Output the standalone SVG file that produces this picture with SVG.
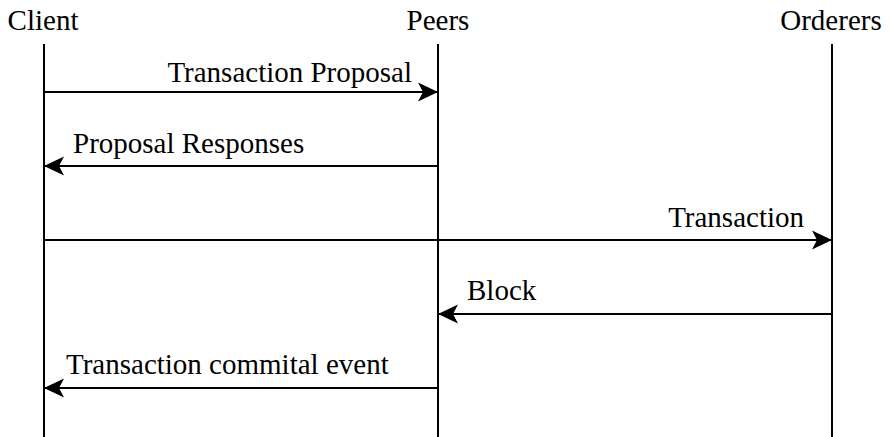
<svg xmlns="http://www.w3.org/2000/svg" width="891" height="437" viewBox="0 0 891 437">
<style>
text{font-family:"Liberation Serif","Times New Roman",serif;font-size:29px;fill:#000}
.life{stroke:#000;stroke-width:2;fill:none}
.msg{stroke:#000;stroke-width:2;fill:none;marker-end:url(#arr)}
</style>
<defs>
<marker id="arr" markerUnits="userSpaceOnUse" markerWidth="22" markerHeight="22" viewBox="0 0 22 20" refX="20" refY="10" orient="auto">
<path d="M0,0.5 L20,10 L0,19.5 L5,10 Z" fill="#000"/>
</marker>
</defs>
<rect width="891" height="437" fill="#fff"/>
<g id="client">
<text x="43" y="30" text-anchor="middle">Client</text>
<line class="life" x1="44" y1="44" x2="44" y2="437"/>
</g>
<g id="peers">
<text x="438" y="30" text-anchor="middle">Peers</text>
<line class="life" x1="438" y1="44" x2="438" y2="437"/>
</g>
<g id="orderers">
<text x="831" y="30" text-anchor="middle">Orderers</text>
<line class="life" x1="832" y1="44" x2="832" y2="437"/>
</g>
<g id="connectors">
<line class="msg" x1="44" y1="92" x2="438" y2="92"/>
<text x="412" y="82" text-anchor="end">Transaction Proposal</text>
<line class="msg" x1="438" y1="166" x2="44" y2="166"/>
<text x="73" y="153">Proposal Responses</text>
<line class="msg" x1="44" y1="240" x2="832" y2="240"/>
<text x="804" y="227" text-anchor="end">Transaction</text>
<line class="msg" x1="832" y1="314" x2="438" y2="314"/>
<text x="467" y="300">Block</text>
<line class="msg" x1="438" y1="388" x2="44" y2="388"/>
<text x="66" y="374">Transaction commital event</text>
</g>
</svg>
